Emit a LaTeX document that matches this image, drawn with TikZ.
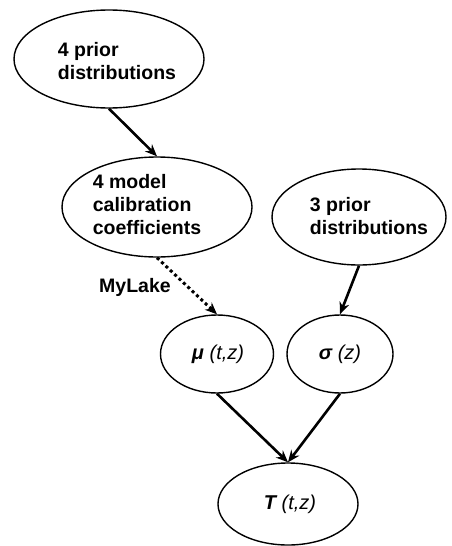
\documentclass[tikz,border=0pt]{standalone}
\usepackage{fontspec}
\setmainfont{Liberation Sans}
\usetikzlibrary{shapes.geometric,arrows.meta}
\begin{document}
\begin{tikzpicture}[x=1pt,y=-1pt,
  el/.style={draw,ellipse,line width=1.4pt,inner sep=0pt},
  txt/.style={align=left,font=\fontsize{19.5}{23}\selectfont\bfseries,inner sep=0pt},
  mth/.style={font=\fontsize{20}{23}\selectfont\itshape,inner sep=0pt},
  arr/.style={line width=2.6pt,-{Stealth[length=12pt,width=10pt]}},
  dotarr/.style={line width=3pt,dash pattern=on 3pt off 3pt,-{Stealth[length=12pt,width=10pt]}}]
\useasboundingbox (0,0) rectangle (451,546);
\node[el,minimum width=190pt,minimum height=98pt] (p4) at (109,59) {};
\node[txt] (p4t) at (117,61) {4 prior\\distributions};
\node[el,minimum width=190pt,minimum height=100pt] (cal) at (157,207) {};
\node[txt] (calt) at (147,205) {4 model\\calibration\\coefficients};
\node[el,minimum width=174pt,minimum height=96pt] (p3) at (359,217) {};
\node[txt] (p3t) at (369,216) {3 prior\\distributions};
\node[el,minimum width=113pt,minimum height=78pt] (mu) at (217,354) {};
\node[mth] (mut) at (218,354) {\textbf{μ} (t,z)};
\node[el,minimum width=106pt,minimum height=78pt] (sg) at (340,354) {};
\node[mth] (sgt) at (340,354) {\textbf{σ} (z)};
\node[el,minimum width=140pt,minimum height=82pt] (T) at (288,504) {};
\node[mth] (Tt) at (290,504) {\textbf{T} (t,z)};
\node[txt] (ml) at (135,287) {MyLake};
\draw[arr] (p4.south) -- (cal.north);
\draw[dotarr] (cal.south) -- (mu.north);
\draw[arr] (p3.south) -- (sg.north);
\draw[arr] (mu.south) -- (T.north);
\draw[arr] (sg.south) -- (T.north);
\end{tikzpicture}
\end{document}
